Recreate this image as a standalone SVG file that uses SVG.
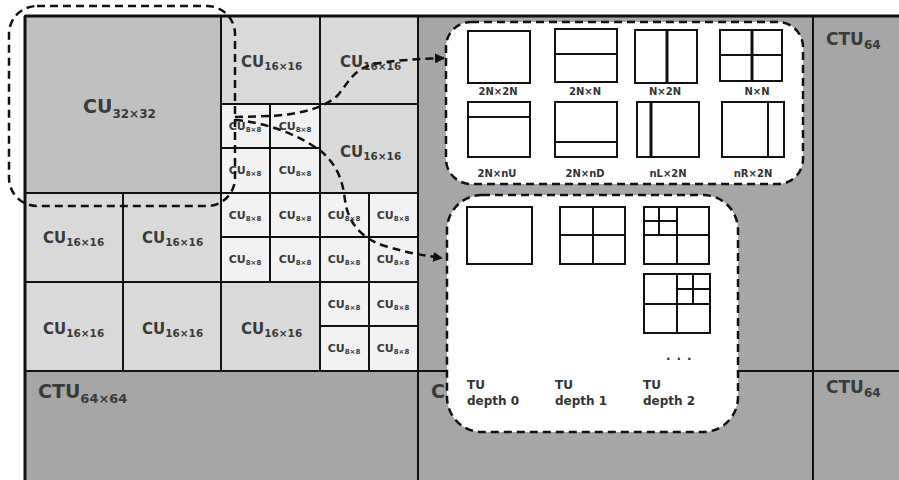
<svg xmlns="http://www.w3.org/2000/svg" width="899" height="480" viewBox="0 0 899 480">
<defs>
<style>
.ctu{fill:#a6a6a6;stroke:#111;stroke-width:2}
.cu32{fill:#c0c0c0;stroke:#111;stroke-width:2}
.cu16{fill:#d9d9d9;stroke:#111;stroke-width:2}
.cu8{fill:#f2f2f2;stroke:#111;stroke-width:2}
.lbl{font-family:"DejaVu Sans",sans-serif;font-weight:bold;fill:#3a3a3a}
.c8{font-size:11px;text-anchor:middle}
.c16{font-size:15px}
.box{fill:#fff;stroke:#111;stroke-width:2.5;stroke-dasharray:8 5}
.dash{fill:none;stroke:#111;stroke-width:2.5;stroke-dasharray:8 5}
.sh{fill:#fff;stroke:#111;stroke-width:2}
.ln{stroke:#111;stroke-width:2}
.ln3{stroke:#111;stroke-width:3}
.pl{font-family:"DejaVu Sans",sans-serif;font-weight:bold;fill:#333;font-size:10px;text-anchor:middle}
.tl{font-family:"DejaVu Sans",sans-serif;font-weight:bold;fill:#333;font-size:12px}
</style>
<marker id="arr" viewBox="0 0 10 10" refX="9" refY="5" markerWidth="4" markerHeight="4" orient="auto" markerUnits="strokeWidth">
<path d="M0,0 L10,5 L0,10 z" fill="#111"/>
</marker>
</defs>
<rect x="0" y="0" width="899" height="480" fill="#fff"/>

<g id="ctu-grid">
<rect class="ctu" x="25" y="371" width="393" height="112"/>
<rect class="ctu" x="418" y="16" width="395" height="355"/>
<rect class="ctu" x="418" y="371" width="395" height="112"/>
<rect class="ctu" x="813" y="16" width="90" height="355"/>
<rect class="ctu" x="813" y="371" width="90" height="112"/>
<text class="lbl" x="38" y="398" font-size="19">CTU<tspan font-size="13" dy="5">64×64</tspan></text>
<text class="lbl" x="431" y="398" font-size="19">C</text>
<text class="lbl" x="826" y="45" font-size="17">CTU<tspan font-size="12" dy="4">64</tspan></text>
<text class="lbl" x="826" y="393" font-size="17">CTU<tspan font-size="12" dy="4">64</tspan></text>
</g>

<g id="cu32">
<rect class="cu32" x="25" y="16" width="196" height="177"/>
<text class="lbl" x="83" y="113" font-size="19">CU<tspan font-size="12" dy="5">32×32</tspan></text>
</g>

<g id="cu16">
<rect class="cu16" x="221" y="16" width="99" height="88"/>
<rect class="cu16" x="320" y="16" width="98" height="88"/>
<rect class="cu16" x="320" y="104" width="98" height="89"/>
<rect class="cu16" x="25" y="193" width="98" height="89"/>
<rect class="cu16" x="123" y="193" width="98" height="89"/>
<rect class="cu16" x="25" y="282" width="98" height="89"/>
<rect class="cu16" x="123" y="282" width="98" height="89"/>
<rect class="cu16" x="221" y="282" width="99" height="89"/>
<text class="lbl c16" x="241" y="67">CU<tspan font-size="10.5" dy="3">16×16</tspan></text>
<text class="lbl c16" x="340" y="67">CU<tspan font-size="10.5" dy="3">16×16</tspan></text>
<text class="lbl c16" x="340" y="157">CU<tspan font-size="10.5" dy="3">16×16</tspan></text>
<text class="lbl c16" x="43" y="243">CU<tspan font-size="10.5" dy="3">16×16</tspan></text>
<text class="lbl c16" x="142" y="243">CU<tspan font-size="10.5" dy="3">16×16</tspan></text>
<text class="lbl c16" x="43" y="334">CU<tspan font-size="10.5" dy="3">16×16</tspan></text>
<text class="lbl c16" x="142" y="334">CU<tspan font-size="10.5" dy="3">16×16</tspan></text>
<text class="lbl c16" x="241" y="334">CU<tspan font-size="10.5" dy="3">16×16</tspan></text>
</g>

<g id="cu8">
<rect class="cu8" x="221" y="104" width="49" height="44"/>
<rect class="cu8" x="270" y="104" width="50" height="44"/>
<rect class="cu8" x="221" y="148" width="49" height="45"/>
<rect class="cu8" x="270" y="148" width="50" height="45"/>
<rect class="cu8" x="221" y="193" width="49" height="44"/>
<rect class="cu8" x="270" y="193" width="50" height="44"/>
<rect class="cu8" x="320" y="193" width="49" height="44"/>
<rect class="cu8" x="369" y="193" width="49" height="44"/>
<rect class="cu8" x="221" y="237" width="49" height="45"/>
<rect class="cu8" x="270" y="237" width="50" height="45"/>
<rect class="cu8" x="320" y="237" width="49" height="45"/>
<rect class="cu8" x="369" y="237" width="49" height="45"/>
<rect class="cu8" x="320" y="282" width="49" height="44"/>
<rect class="cu8" x="369" y="282" width="49" height="44"/>
<rect class="cu8" x="320" y="326" width="49" height="45"/>
<rect class="cu8" x="369" y="326" width="49" height="45"/>
<g class="lbl c8">
<text x="245" y="130">CU<tspan font-size="7" dy="2">8×8</tspan></text>
<text x="295" y="130">CU<tspan font-size="7" dy="2">8×8</tspan></text>
<text x="245" y="174">CU<tspan font-size="7" dy="2">8×8</tspan></text>
<text x="295" y="174">CU<tspan font-size="7" dy="2">8×8</tspan></text>
<text x="245" y="219">CU<tspan font-size="7" dy="2">8×8</tspan></text>
<text x="295" y="219">CU<tspan font-size="7" dy="2">8×8</tspan></text>
<text x="344" y="219">CU<tspan font-size="7" dy="2">8×8</tspan></text>
<text x="393" y="219">CU<tspan font-size="7" dy="2">8×8</tspan></text>
<text x="245" y="263">CU<tspan font-size="7" dy="2">8×8</tspan></text>
<text x="295" y="263">CU<tspan font-size="7" dy="2">8×8</tspan></text>
<text x="344" y="263">CU<tspan font-size="7" dy="2">8×8</tspan></text>
<text x="393" y="263">CU<tspan font-size="7" dy="2">8×8</tspan></text>
<text x="344" y="308">CU<tspan font-size="7" dy="2">8×8</tspan></text>
<text x="393" y="308">CU<tspan font-size="7" dy="2">8×8</tspan></text>
<text x="344" y="352">CU<tspan font-size="7" dy="2">8×8</tspan></text>
<text x="393" y="352">CU<tspan font-size="7" dy="2">8×8</tspan></text>
</g>
</g>

<line class="ln3" x1="25" y1="16" x2="25" y2="480"/>
<line class="ln3" x1="25" y1="16" x2="899" y2="16"/>

<g id="cu32-highlight">
<rect class="dash" x="9" y="6" width="226" height="200" rx="28"/>
</g>

<g id="pu-box">
<rect class="box" x="446" y="22" width="357" height="162" rx="25"/>
<rect class="sh" x="468" y="31" width="62" height="52"/>
<rect class="sh" x="555" y="29" width="62" height="53"/>
<line class="ln" x1="555" y1="54" x2="617" y2="54"/>
<rect class="sh" x="635" y="30" width="62" height="53"/>
<line class="ln3" x1="667" y1="30" x2="667" y2="83"/>
<rect class="sh" x="720" y="30" width="62" height="51"/>
<line class="ln3" x1="752" y1="30" x2="752" y2="81"/>
<line class="ln" x1="720" y1="55" x2="782" y2="55"/>
<rect class="sh" x="468" y="102" width="62" height="55"/>
<line class="ln" x1="468" y1="117" x2="530" y2="117"/>
<rect class="sh" x="555" y="102" width="62" height="55"/>
<line class="ln" x1="555" y1="142" x2="617" y2="142"/>
<rect class="sh" x="637" y="102" width="62" height="55"/>
<line class="ln3" x1="651" y1="102" x2="651" y2="157"/>
<rect class="sh" x="722" y="102" width="62" height="55"/>
<line class="ln" x1="768" y1="102" x2="768" y2="157"/>
<text class="pl" x="498" y="95">2N×2N</text>
<text class="pl" x="585" y="95">2N×N</text>
<text class="pl" x="665" y="95">N×2N</text>
<text class="pl" x="757" y="95">N×N</text>
<text class="pl" x="497" y="177">2N×nU</text>
<text class="pl" x="585" y="177">2N×nD</text>
<text class="pl" x="668" y="177">nL×2N</text>
<text class="pl" x="753" y="177">nR×2N</text>
</g>

<g id="tu-box">
<rect class="box" x="447" y="195" width="291" height="237" rx="35"/>
<rect class="sh" x="467" y="207" width="65" height="57"/>
<rect class="sh" x="560" y="207" width="65" height="57"/>
<line class="ln" x1="593" y1="207" x2="593" y2="264"/>
<line class="ln" x1="560" y1="235" x2="625" y2="235"/>
<rect class="sh" x="644" y="207" width="65" height="57"/>
<line class="ln" x1="677" y1="207" x2="677" y2="264"/>
<line class="ln" x1="644" y1="235" x2="709" y2="235"/>
<line class="ln" x1="659" y1="207" x2="659" y2="235"/>
<line class="ln" x1="644" y1="221" x2="677" y2="221"/>
<rect class="sh" x="644" y="274" width="66" height="59"/>
<line class="ln" x1="677" y1="274" x2="677" y2="333"/>
<line class="ln" x1="644" y1="304" x2="710" y2="304"/>
<line class="ln" x1="693" y1="274" x2="693" y2="304"/>
<line class="ln" x1="677" y1="289" x2="710" y2="289"/>
<text class="tl" x="666" y="360" font-size="14" letter-spacing="6">...</text>
<text class="tl" x="467" y="389">TU</text>
<text class="tl" x="467" y="405">depth 0</text>
<text class="tl" x="555" y="389">TU</text>
<text class="tl" x="555" y="405">depth 1</text>
<text class="tl" x="643" y="389">TU</text>
<text class="tl" x="643" y="405">depth 2</text>
</g>

<g id="connectors">
<path class="dash" d="M235,117 L272,116 C300,114 325,108 338,95 C350,80 355,68 375,64 C395,60 420,59 444,58" marker-end="url(#arr)"/>
<path class="dash" d="M235,120 C265,122 300,135 322,152 C340,168 343,185 345,200 C348,222 360,238 385,246 C405,252 420,255 442,258" marker-end="url(#arr)"/>
</g>
</svg>
